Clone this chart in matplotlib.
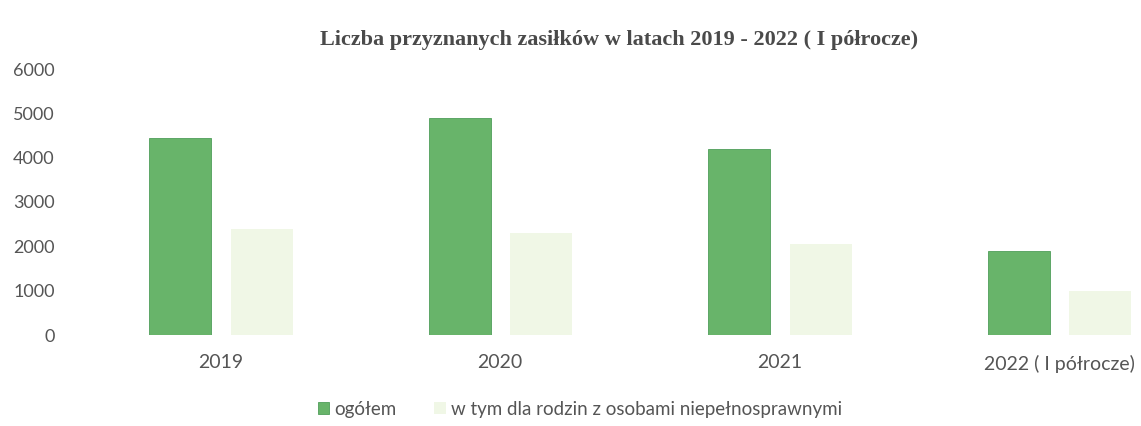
import matplotlib
matplotlib.use("Agg")
import matplotlib.pyplot as plt
import numpy as np

categories = ["2019", "2020", "2021", "2022 ( I półrocze)"]
ogolem = [4450, 4900, 4200, 1900]
niepelnosprawni = [2400, 2300, 2050, 1000]
series_names = ["ogółem", "w tym dla rodzin z osobami niepełnosprawnymi"]
title = "Liczba przyznanych zasiłków w latach 2019 - 2022 ( I półrocze)"

green = "#68b46a"
light = "#f0f7e6"
txt = "#555555"

fig = plt.figure(figsize=(11.41, 4.26), dpi=100)
ax = fig.add_axes([81/1141, (426-335)/426, 1118/1141, (335-69)/426])

x = np.arange(len(categories))
w = 0.222
ax.bar(x - 0.145, ogolem, width=w, color=green, edgecolor="#4f9e5a", linewidth=0.6, label=series_names[0])
ax.bar(x + 0.147, niepelnosprawni, width=w, color=light, label=series_names[1])

ax.set_xlim(-0.5, 3.5)
ax.set_ylim(0, 6000)
ax.set_yticks(range(0, 6001, 1000))
ax.set_xticks(x)
ax.set_xticklabels(categories)
for s in ax.spines.values():
    s.set_visible(False)
ax.tick_params(axis="y", length=0, pad=19, labelsize=13, labelcolor=txt)
ax.tick_params(axis="x", length=0, pad=14, labelsize=14, labelcolor=txt)
for lab in ax.get_xticklabels() + ax.get_yticklabels():
    lab.set_fontfamily("Lato")

fig.text(619/1141, 1 - 40/426, title, ha="center", va="center",
         fontsize=16, fontfamily="Liberation Serif", fontweight="bold", color="#4a4a4a")

leg = fig.legend(loc="center", bbox_to_anchor=(580/1141, 1 - 409/426), ncol=2,
                 frameon=False, handlelength=0.6, handleheight=0.6, handletextpad=0.3,
                 columnspacing=2.0, prop={"family": "Lato", "size": 13.5})
for t in leg.get_texts():
    t.set_color(txt)

fig.savefig("out.png", dpi=100, facecolor="white")
